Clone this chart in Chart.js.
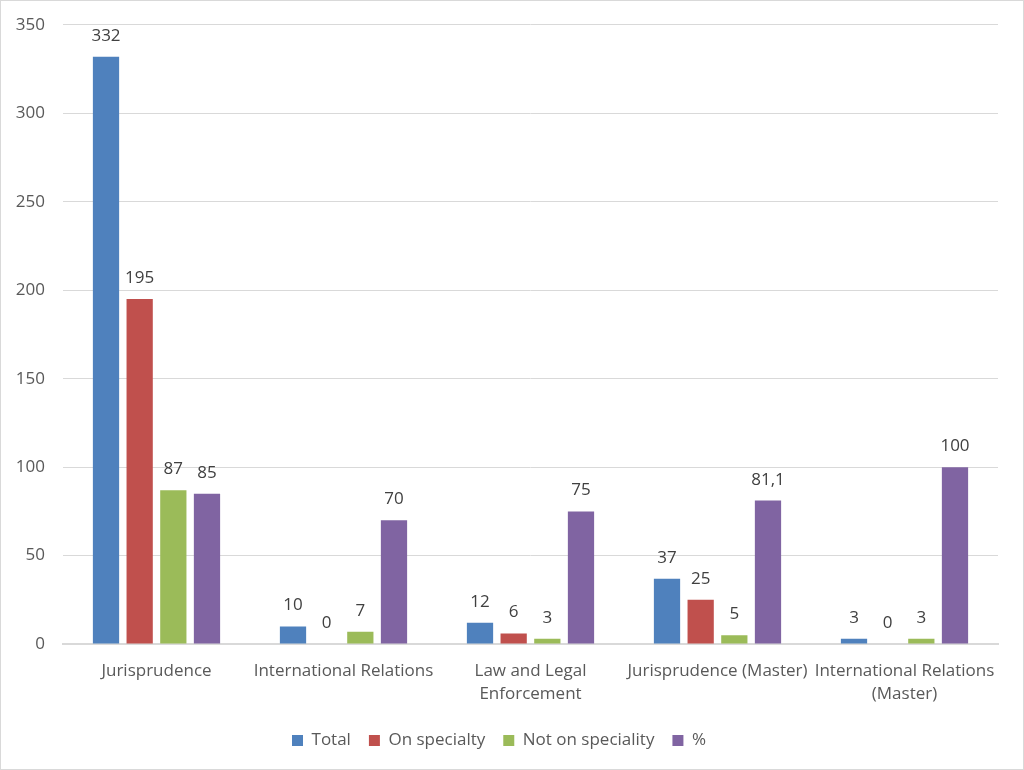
<!DOCTYPE html>
<html>
<head>
<meta charset="utf-8">
<script src="https://cdn.jsdelivr.net/npm/chart.js@4"></script>
<style>
  html, body { margin: 0; padding: 0; background: #fff; }
  #wrap { width: 1024px; height: 770px; }
</style>
</head>
<body>
<div id="wrap"><canvas id="chart" width="1024" height="770"></canvas></div>
<script>
// Categories and series
const categories = [
    'Jurisprudence',
    'International Relations',
    ['Law and Legal', 'Enforcement'],
    'Jurisprudence (Master)',
    ['International Relations', '(Master)']
];
const totalValues = [332, 10, 12, 37, 3];
const onSpecialtyValues = [195, 0, 6, 25, 0];
const notOnSpecialityValues = [87, 7, 3, 5, 3];
const percentValues = [85, 70, 75, 81.1, 100];
const yTicks = [0, 50, 100, 150, 200, 250, 300, 350];

const textColor = '#595959';
const fontFamily = '"Open Sans", "Noto Sans", sans-serif';

// Draw value labels above each bar (comma as decimal mark)
const valueLabels = {
    id: 'valueLabels',
    afterDatasetsDraw(chart) {
        const ctx = chart.ctx;
        ctx.save();
        ctx.font = '17px ' + fontFamily;
        ctx.fillStyle = '#404040';
        ctx.textAlign = 'center';
        ctx.textBaseline = 'alphabetic';
        chart.data.datasets.forEach((ds, i) => {
            chart.getDatasetMeta(i).data.forEach((bar, j) => {
                const txt = String(ds.data[j]).replace('.', ',');
                ctx.fillText(txt, bar.x, bar.y - 16);
            });
        });
        ctx.restore();
    }
};

// Thin outer frame around the chart
const frame = {
    id: 'frame',
    afterDraw(chart) {
        const ctx = chart.ctx;
        ctx.save();
        ctx.strokeStyle = '#d9d9d9';
        ctx.lineWidth = 1;
        ctx.strokeRect(0.5, 0.5, chart.width - 1, chart.height - 1);
        ctx.restore();
    }
};

new Chart(document.getElementById('chart').getContext('2d'), {
    type: 'bar',
    data: {
        labels: categories,
        datasets: [
            { label: 'Total', data: totalValues, backgroundColor: '#4f81bd' },
            { label: 'On specialty', data: onSpecialtyValues, backgroundColor: '#c0504d' },
            { label: 'Not on speciality', data: notOnSpecialityValues, backgroundColor: '#9bbb59' },
            { label: '%', data: percentValues, backgroundColor: '#8064a2' }
        ]
    },
    options: {
        responsive: false,
        animation: false,
        datasets: {
            bar: { categoryPercentage: 0.72, barPercentage: 0.78 }
        },
        layout: { padding: { top: 24, right: 26, bottom: 11, left: 0 } },
        plugins: {
            legend: {
                position: 'bottom',
                labels: {
                    boxWidth: 11,
                    boxHeight: 11,
                    color: textColor,
                    font: { family: fontFamily, size: 17 },
                    padding: 18
                }
            },
            tooltip: { enabled: false }
        },
        scales: {
            x: {
                grid: { display: false },
                border: { color: '#d9d9d9', width: 2 },
                ticks: {
                    color: textColor,
                    font: { family: fontFamily, size: 17, lineHeight: 1.35 },
                    maxRotation: 0,
                    autoSkip: false,
                    padding: 8
                }
            },
            y: {
                min: 0,
                max: 350,
                afterBuildTicks: scale => { scale.ticks = yTicks.map(v => ({ value: v })); },
                afterFit: scale => { scale.width = 63; },
                grid: { color: '#d9d9d9', drawTicks: false },
                border: { display: false },
                ticks: {
                    color: textColor,
                    font: { family: fontFamily, size: 17, lineHeight: 0.8 },
                    padding: 18
                }
            }
        }
    },
    plugins: [valueLabels, frame]
});
</script>
</body>
</html>
